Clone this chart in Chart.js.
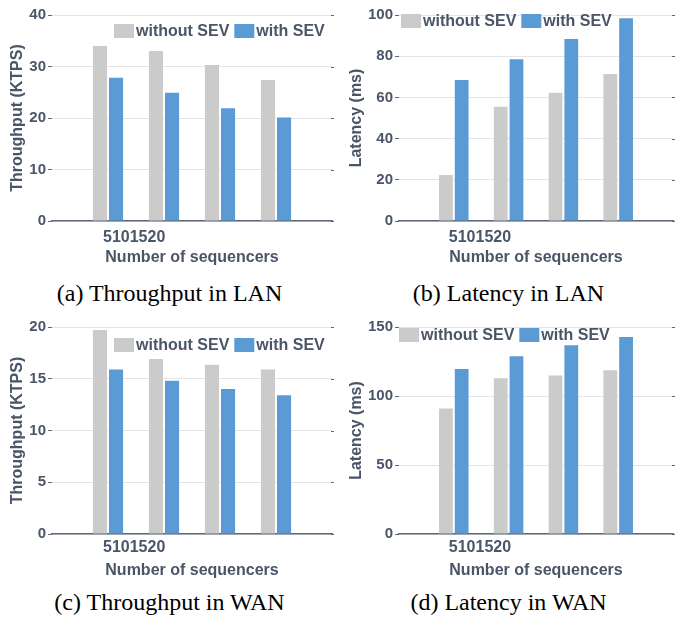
<!DOCTYPE html>
<html>
<head>
<meta charset="utf-8">
<script src="https://cdn.jsdelivr.net/npm/chart.js@4.4.1/dist/chart.umd.min.js"></script>
<style>
  body { margin: 0; background: #fff; }
  #page { position: relative; width: 678px; height: 618px; overflow: hidden; }
  .panel { position: absolute; width: 339px; height: 275px; }
  .caption {
    position: absolute; width: 339px; text-align: center;
    font-family: "Liberation Serif", "Times New Roman", serif;
    font-size: 24px; line-height: 24px; color: #000;
  }
</style>
</head>
<body>
<div id="page"></div>
<script>
// categories on the x axis (number of sequencers)
const categories = ["5", "10", "15", "20"];
const seriesNames = ["without SEV", "with SEV"];

// values
const lanThroughputWithout = [34.0, 33.0, 30.3, 27.4];
const lanThroughputWith = [27.8, 24.9, 21.9, 20.1];
const lanLatencyWithout = [22.3, 55.5, 62.3, 71.4];
const lanLatencyWith = [68.4, 78.5, 88.3, 98.4];
const wanThroughputWithout = [19.7, 16.9, 16.35, 15.9];
const wanThroughputWith = [15.9, 14.8, 14.0, 13.4];
const wanLatencyWithout = [90.9, 112.9, 114.8, 118.6];
const wanLatencyWith = [119.6, 128.8, 136.7, 142.8];

const textColor = "#4a5568";
const axisColor = "#5f6878";
const gridColor = "#e4e4ea";
const seriesColors = ["#cbcbcb", "#5b9bd5"];
const H = 275;

// one entry per sub-figure
const panels = [
    { left: 0, top: 0, yTitle: "Throughput (KTPS)", caption: "(a) Throughput in LAN",
      a: lanThroughputWithout, b: lanThroughputWith, yMax: 40, yStep: 10,
      plotLeft: 52, plotTop: 15, plotRight: 332, plotBottom: 221, titlePad: 8, tickGap: 9,
      legendX: 114, legendY: 24, captionTop: 281 },
    { left: 339, top: 0, yTitle: "Latency (ms)", caption: "(b) Latency in LAN",
      a: lanLatencyWithout, b: lanLatencyWith, yMax: 100, yStep: 20,
      plotLeft: 60, plotTop: 15, plotRight: 334, plotBottom: 221, titlePad: 8, tickGap: 9,
      legendX: 62, legendY: 14, captionTop: 281 },
    { left: 0, top: 310, yTitle: "Throughput (KTPS)", caption: "(c) Throughput in WAN",
      a: wanThroughputWithout, b: wanThroughputWith, yMax: 20, yStep: 5,
      plotLeft: 52, plotTop: 17, plotRight: 332, plotBottom: 224, titlePad: 4.5, tickGap: 6,
      legendX: 114, legendY: 28, captionTop: 280 },
    { left: 339, top: 310, yTitle: "Latency (ms)", caption: "(d) Latency in WAN",
      a: wanLatencyWithout, b: wanLatencyWith, yMax: 150, yStep: 50,
      plotLeft: 60, plotTop: 17, plotRight: 334, plotBottom: 224, titlePad: 4.5, tickGap: 6,
      legendX: 60, legendY: 18, captionTop: 280 }
];

// right-hand tick marks, squeezed x labels and the in-plot legend
const decor = {
    id: "decor",
    afterDraw(chart, args, opts) {
        const { ctx, chartArea } = chart;
        const x = chart.scales.x, y = chart.scales.y;
        ctx.save();

        ctx.strokeStyle = axisColor;
        ctx.lineWidth = 1;
        y.ticks.forEach((t, i) => {
            const py = Math.round(y.getPixelForTick(i)) + 0.5;
            ctx.beginPath();
            ctx.moveTo(chartArea.right - 1, py);
            ctx.lineTo(chartArea.right + 2, py);
            ctx.stroke();
        });

        ctx.font = 'bold 16px "Liberation Sans", Arial, sans-serif';
        ctx.fillStyle = textColor;
        ctx.textAlign = "left";
        ctx.textBaseline = "top";
        ctx.fillText(categories.join(""), x.getPixelForValue(1) - 5, chartArea.bottom + opts.tickGap);

        // legend
        let lx = opts.legendX;
        const ly = opts.legendY;
        ctx.textBaseline = "middle";
        chart.data.datasets.forEach(ds => {
            ctx.fillStyle = ds.backgroundColor;
            ctx.fillRect(lx, ly, 20, 14);
            lx += 22;
            ctx.fillStyle = textColor;
            ctx.fillText(ds.label, lx, ly + 7.5);
            lx += ctx.measureText(ds.label).width + 5;
        });
        ctx.restore();
    }
};

const page = document.getElementById("page");
const boldFont = size => ({ family: '"Liberation Sans", Arial, sans-serif', size: size, weight: "bold" });

panels.forEach(p => {
    const box = document.createElement("div");
    box.className = "panel";
    box.style.left = p.left + "px";
    box.style.top = p.top + "px";
    const canvas = document.createElement("canvas");
    canvas.width = 339;
    canvas.height = H;
    canvas.style.width = "339px";
    canvas.style.height = H + "px";
    box.appendChild(canvas);
    page.appendChild(box);

    const cap = document.createElement("div");
    cap.className = "caption";
    cap.style.left = p.left + "px";
    cap.style.top = (p.top + p.captionTop) + "px";
    cap.textContent = p.caption;
    page.appendChild(cap);

    new Chart(canvas, {
        type: "bar",
        data: {
            labels: ["", ...categories, ""],
            datasets: [
                { label: seriesNames[0], data: [null, ...p.a, null], backgroundColor: seriesColors[0] },
                { label: seriesNames[1], data: [null, ...p.b, null], backgroundColor: seriesColors[1] }
            ]
        },
        options: {
            responsive: false,
            animation: false,
            devicePixelRatio: 1,
            categoryPercentage: 0.575,
            barPercentage: 0.875,
            layout: { padding: { top: p.plotTop, right: 339 - p.plotRight, left: 0, bottom: 0 } },
            plugins: {
                legend: { display: false },
                tooltip: { enabled: false },
                decor: { legendX: p.legendX, legendY: p.legendY, tickGap: p.tickGap }
            },
            scales: {
                x: {
                    offset: false,
                    grid: { display: false },
                    border: { display: true, color: axisColor, width: 1.5 },
                    ticks: { display: false },
                    title: {
                        display: true, text: "Number of sequencers", color: textColor,
                        font: boldFont(16), padding: { top: 0, bottom: p.titlePad }
                    },
                    afterFit: s => { s.height = H - p.plotBottom; }
                },
                y: {
                    min: 0, max: p.yMax,
                    ticks: { stepSize: p.yStep, color: textColor, font: boldFont(15), padding: 2 },
                    grid: { color: gridColor, tickColor: axisColor, tickLength: 4 },
                    border: { display: false },
                    title: {
                        display: true, text: p.yTitle, color: textColor,
                        font: boldFont(16), padding: { top: 8, bottom: 0 }
                    },
                    afterFit: s => { s.width = p.plotLeft; }
                }
            }
        },
        plugins: [decor]
    });
});
</script>
</body>
</html>
